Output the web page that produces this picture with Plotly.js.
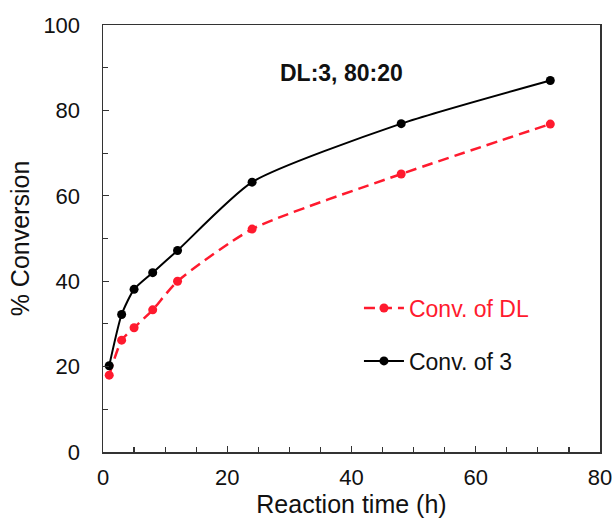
<!DOCTYPE html>
<html>
<head>
<meta charset="utf-8">
<script src="https://cdn.plot.ly/plotly-3.0.1.min.js"></script>
<style>html,body{margin:0;padding:0;background:#fff;}#chart{width:616px;height:519px;}</style>
</head>
<body>
<div id="chart"></div>
<script>
const timeH = [1, 3, 5, 8, 12, 24, 48, 72];
const convDL = [18.0, 26.2, 29.1, 33.3, 40.0, 52.2, 65.1, 76.8];
const conv3 = [20.2, 32.2, 38.1, 42.0, 47.2, 63.2, 76.9, 87.0];
const seriesNames = ["Conv. of DL", "Conv. of 3"];
const chartLabel = "DL:3, 80:20";

const font = "Arial, 'Liberation Sans', sans-serif";
const red = "#ff1a2e";
const traces = [
  {x: timeH, y: convDL, name: "<span style='color:" + red + "'>" + seriesNames[0] + "</span>",
   mode: "lines+markers", legendgroup: "a",
   line: {color: red, width: 2.5, dash: "11px,6px", shape: "spline", smoothing: 0.6},
   marker: {color: red, size: 9}},
  {x: timeH, y: conv3, name: seriesNames[1], mode: "lines+markers", legendgroup: "b",
   line: {color: "#000", width: 2, shape: "spline", smoothing: 0.6},
   marker: {color: "#000", size: 9}}
];
const axisCommon = {
  showline: true, mirror: true, linecolor: "#333", linewidth: 1.5,
  ticks: "inside", ticklen: 6, tickcolor: "#333", tickwidth: 1.2,
  showgrid: false, zeroline: false,
  tickfont: {family: font, size: 22, color: "#111"}
};
const layout = {
  width: 616, height: 519,
  margin: {l: 103, r: 16, t: 25, b: 67},
  paper_bgcolor: "#fff", plot_bgcolor: "#fff",
  showlegend: true,
  legend: {x: 0.515, y: 0.275, xanchor: "left", yanchor: "middle",
    font: {family: font, size: 23, color: "#111"}, bgcolor: "rgba(0,0,0,0)",
    traceorder: "grouped", tracegroupgap: 20, itemwidth: 40},
  xaxis: Object.assign({}, axisCommon, {range: [0, 80], dtick: 20, tick0: 0,
    ticklabelstandoff: 5,
    minor: {dtick: 5, ticks: "inside", ticklen: 5, tickcolor: "#333"},
    title: {text: "Reaction time (h)", font: {family: font, size: 25, color: "#111"}, standoff: 0}}),
  yaxis: Object.assign({}, axisCommon, {range: [0, 100], dtick: 20, tick0: 0,
    ticklabelstandoff: 17,
    minor: {dtick: 10, ticks: "inside", ticklen: 5, tickcolor: "#333"},
    title: {text: "% Conversion", font: {family: font, size: 25, color: "#111"}, standoff: 6}}),
  annotations: [{text: "<b>" + chartLabel + "</b>", xref: "paper", yref: "paper",
    x: 0.48, y: 0.888, yanchor: "middle", showarrow: false, font: {family: font, size: 23, color: "#111"}}]
};
Plotly.newPlot("chart", traces, layout, {displayModeBar: false, staticPlot: true});
</script>
</body>
</html>
